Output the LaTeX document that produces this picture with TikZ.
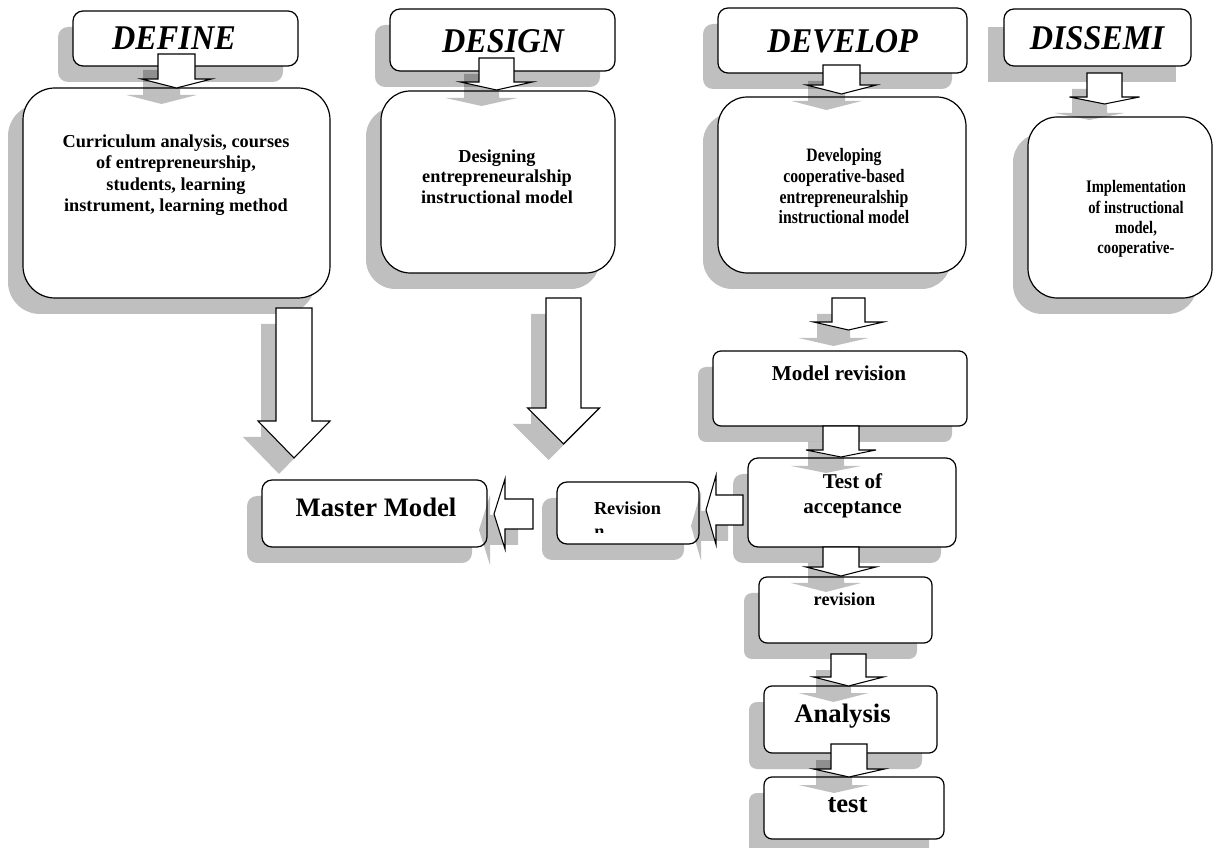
\documentclass[tikz,border=0pt]{standalone}
\usepackage{fontspec}
\setmainfont{Liberation Serif}
\newfontfamily\narrowserif[FakeStretch=0.83]{Liberation Serif}
\newfontfamily\headserif[FakeStretch=0.93]{Liberation Serif}
\usetikzlibrary{fit,shadows}

% block arrow pointing down: centre x, top, neck, tip, half shaft, half head
\newcommand{\dnarrow}[6]{%
  \foreach \sx/\sy/\arrsty in {-15/16/arrshade,0/0/arrbody}
    \filldraw[\arrsty,shift={(\sx,\sy)}] ({#1-#5},#2) -- ({#1-#5},#3) -- ({#1-#6},#3)
      -- (#1,#4) -- ({#1+#6},#3) -- ({#1+#5},#3) -- ({#1+#5},#2) -- cycle;
}
% block arrow pointing left: tip x, head base x, tail x, centre y, half shaft, half head
\newcommand{\lfarrow}[6]{%
  \foreach \sx/\sy/\arrsty in {-15/16/arrshade,0/0/arrbody}
    \filldraw[\arrsty,shift={(\sx,\sy)}] (#3,{#4-#5}) -- (#2,{#4-#5}) -- (#2,{#4-#6})
      -- (#1,#4) -- (#2,{#4+#6}) -- (#2,{#4+#5}) -- (#3,{#4+#5}) -- cycle;
}

\begin{document}
\begin{tikzpicture}[x=0.75pt,y=-0.75pt,
    box/.style={draw,fill=white,line width=0.9pt,inner sep=0pt,rounded corners=#1},
    box/.default=7.5pt,
    shbox/.style={box=#1,drop shadow={shadow xshift=-11.25pt,shadow yshift=-12pt,
                  fill=black,opacity=.25}},
    shbox/.default=7.5pt,
    arrshade/.style={fill=black,fill opacity=.25,draw=none},
    arrbody/.style={fill=white,draw=black,line width=0.8pt},
    headtxt/.style={anchor=base,inner sep=0pt,font=\headserif\fontsize{26}{30}\selectfont\bfseries\itshape},
    maintxt/.style={anchor=north,align=center,inner sep=0pt},
    smalltxt/.style={anchor=base,inner sep=0pt,font=\fontsize{13.7}{16}\selectfont\bfseries},
    bigtxt/.style={anchor=base,inner sep=0pt,font=\fontsize{20}{24}\selectfont\bfseries}]
  \useasboundingbox (0,0) rectangle (1215,848);

  % stage headers and their boxes
  \node[shbox, fit={(73,11)(298,66)}] (defhead) {};
  \node[shbox=24pt, fit={(23,88)(330,298)}] (defbox) {};
  \node[shbox, fit={(390,9)(615,71)}] (deshead) {};
  \node[shbox=22pt, fit={(381,91)(615,273)}] (desbox) {};
  \node[shbox, fit={(718,8)(967,73)}] (devhead) {};
  \node[shbox=22pt, fit={(718,97)(966,273)}] (devbox) {};
  \fill[arrshade] (988,27) rectangle (1176,82);
  \node[box, fit={(1004,9)(1191,66)}] (dishead) {};
  \node[shbox=22pt, fit={(1028,117)(1212,298)}] (disbox) {};

  % lower boxes
  \node[shbox, fit={(262,480)(487,547)}] (master) {};
  \node[shbox, fit={(557,482)(699,544)}] (revbox) {};
  \node[shbox=6pt, fit={(713,351)(967,426)}] (modrev) {};
  \node[shbox, fit={(748,458)(956,547)}] (accept) {};
  \node[shbox=6pt, fit={(759,577)(932,643)}] (revision) {};
  \node[shbox=6pt, fit={(764,686)(937,753)}] (analysis) {};
  \node[shbox=6pt, fit={(764,777)(944,839)}] (testbox) {};

  % block arrows
  \dnarrow{176.5}{54}{79}{88}{18.5}{35}
  \dnarrow{496.5}{58}{82}{90}{17.5}{36}
  \dnarrow{841.5}{65}{85}{94}{18.5}{35}
  \dnarrow{1104.5}{73}{97}{104}{17.5}{35}
  \dnarrow{294}{308}{421}{458}{18}{36}
  \dnarrow{563.5}{298}{408}{444}{17.5}{36}
  \dnarrow{848.5}{298}{322}{330}{16.5}{35}
  \dnarrow{841}{426}{450}{457}{18}{35}
  \dnarrow{841}{547}{567}{576}{18}{35}
  \dnarrow{848.5}{654}{677}{686}{17.5}{35}
  \dnarrow{849}{744}{769}{777}{18}{35.5}
  \lfarrow{494}{505}{533}{514}{15}{35}
  \lfarrow{706}{716}{743}{510}{15}{34.5}

  % texts
  \node[headtxt] (defttl) at (174,50) {DEFINE};
  \node[headtxt] (desttl) at (503,53) {DESIGN};
  \node[headtxt] (devttl) at (842.7,53) {DEVELOP};
  \node[headtxt] (disttl) at (1097,50) {DISSEMI};

  \node[maintxt, font=\fontsize{13.7}{16}\selectfont\bfseries] (deftxt) at (176,134.6)
    {Curriculum analysis, courses\\of entrepreneurship,\\students, learning\\instrument, learning method};
  \node[maintxt, font=\fontsize{13.7}{15.4}\selectfont\bfseries] (destxt) at (497,149.4)
    {Designing\\entrepreneuralship\\instructional model};
  \node[maintxt, font=\narrowserif\fontsize{14.2}{15.5}\selectfont\bfseries] (devtxt) at (844,148.5)
    {Developing\\cooperative-based\\entrepreneuralship\\instructional model};
  \node[maintxt, font=\narrowserif\fontsize{13.2}{15.2}\selectfont\bfseries] (distxt) at (1136,180.5)
    {Implementation\\of instructional\\model,\\cooperative-};

  \node[bigtxt] (mastertxt) at (376,517) {Master Model};
  \node[smalltxt] (revtxt) at (627.5,515) {Revision};
  \begin{scope}
    \clip (557,482) rectangle (699,533);
    \node[smalltxt, anchor=base west] (revn) at (594,537.5) {n};
  \end{scope}
  \node[smalltxt, font=\fontsize{15.9}{19}\selectfont\bfseries] (modtxt) at (839,381) {Model revision};
  \node[maintxt, font=\fontsize{15.8}{18.75}\selectfont\bfseries] (acctxt) at (852.5,473.7)
    {Test of\\acceptance};
  \node[smalltxt] (revisiontxt) at (844.5,606) {revision};
  \node[bigtxt] (analysistxt) at (842.5,722) {Analysis};
  \node[bigtxt] (testtxt) at (847.5,812) {test};
\end{tikzpicture}
\end{document}
